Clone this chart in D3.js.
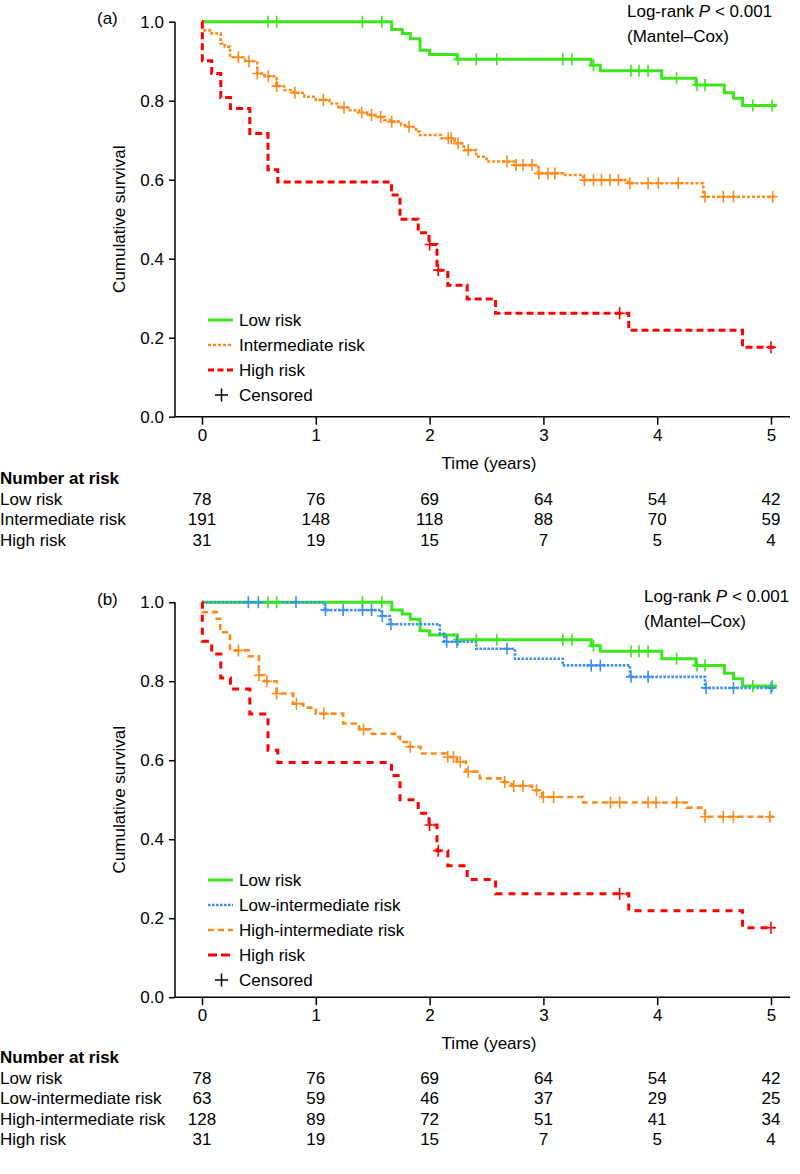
<!DOCTYPE html>
<html><head><meta charset="utf-8">
<script src="https://cdn.jsdelivr.net/npm/d3@7"></script>
<style>
html,body{margin:0;padding:0;background:#fff;}
text{font-family:"Liberation Sans",Arial,sans-serif;fill:#000;}
</style></head>
<body>
<svg id="chart" width="800" height="1174"></svg>
<script>
// ---------------- DATA ----------------
const xTicks = [0,1,2,3,4,5];
const yTicks = [0,0.2,0.4,0.6,0.8,1.0];

// Low risk (same in both panels)
const lowSteps = [[0,1],[1.667,0.98],[1.76,0.97],[1.83,0.957],[1.916,0.928],[2.0,0.917],[2.24,0.905],[3.42,0.89],[3.50,0.876],[4.04,0.857],[4.34,0.84],[4.59,0.82],[4.67,0.806],[4.75,0.788]];
const lowCensored = [0.58,0.656,1.41,1.58,2.25,2.41,2.59,3.17,3.25,3.44,3.77,3.84,3.92,4.17,4.35,4.42,4.84,5.01];
const lowEnd = 5.05;

// Intermediate risk (panel a)
const intSteps = [[0,1],[0.003,0.978],[0.085,0.97],[0.164,0.945],[0.2,0.937],[0.246,0.91],[0.38,0.90],[0.486,0.869],[0.55,0.862],[0.656,0.837],[0.72,0.827],[0.80,0.82],[0.90,0.81],[1.0,0.802],[1.12,0.793],[1.2,0.783],[1.30,0.776],[1.38,0.77],[1.45,0.764],[1.52,0.759],[1.6,0.751],[1.66,0.747],[1.75,0.738],[1.80,0.734],[1.88,0.722],[1.916,0.713],[2.10,0.705],[2.22,0.692],[2.30,0.675],[2.41,0.658],[2.50,0.646],[2.75,0.637],[2.955,0.616],[3.175,0.612],[3.35,0.599],[3.746,0.591],[4.405,0.557]];
const intCensored = [0.32,0.413,0.486,0.583,0.656,0.817,1.066,1.248,1.403,1.49,1.57,1.667,1.82,2.164,2.19,2.25,2.34,2.68,2.76,2.82,2.90,2.96,3.04,3.10,3.36,3.44,3.51,3.585,3.66,3.76,3.92,4.01,4.185,4.42,4.58,4.67,5.015];
const intEnd = 5.05;

// High risk (same in both panels)
const highSteps = [[0,1],[0.003,0.901],[0.085,0.869],[0.165,0.808],[0.25,0.78],[0.42,0.717],[0.58,0.625],[0.666,0.594],[1.665,0.561],[1.74,0.50],[1.90,0.466],[1.995,0.436],[2.065,0.371],[2.16,0.333],[2.33,0.298],[2.58,0.262],[3.75,0.219],[4.75,0.176]];
const highCensored = [2.0,2.076,3.67,5.0];
const highEnd = 5.03;

// Low-intermediate risk (panel b)
const lowIntSteps = [[0,1],[1.08,0.98],[1.58,0.965],[1.65,0.944],[2.09,0.92],[2.13,0.90],[2.41,0.882],[2.75,0.857],[3.17,0.84],[3.76,0.811],[4.42,0.783]];
const lowIntCensored = [0.407,0.495,0.826,1.085,1.24,1.41,1.49,1.585,1.66,2.15,2.24,2.68,3.42,3.50,3.77,3.92,4.43,4.67,5.0];
const lowIntEnd = 5.05;

// High-intermediate risk (panel b)
const highIntSteps = [[0,1],[0.005,0.975],[0.13,0.958],[0.16,0.924],[0.246,0.878],[0.41,0.863],[0.50,0.815],[0.55,0.80],[0.656,0.769],[0.80,0.743],[0.89,0.733],[1.0,0.718],[1.24,0.693],[1.38,0.678],[1.48,0.667],[1.71,0.659],[1.74,0.646],[1.80,0.634],[1.92,0.617],[2.15,0.608],[2.24,0.596],[2.32,0.571],[2.44,0.554],[2.62,0.545],[2.72,0.535],[2.90,0.524],[2.99,0.507],[3.35,0.493],[4.26,0.48],[4.42,0.457]];
const highIntCensored = [0.32,0.50,0.57,0.656,0.83,1.07,1.42,1.83,2.16,2.21,2.27,2.34,2.66,2.74,2.82,2.94,3.0,3.09,3.59,3.67,3.92,3.99,4.17,4.42,4.58,4.67,4.99];
const highIntEnd = 5.05;

// Number at risk tables
const tableALabels = ["Low risk","Intermediate risk","High risk"];
const atRiskLowA = [78,76,69,64,54,42];
const atRiskIntA = [191,148,118,88,70,59];
const atRiskHighA = [31,19,15,7,5,4];
const tableBLabels = ["Low risk","Low-intermediate risk","High-intermediate risk","High risk"];
const atRiskLowB = [78,76,69,64,54,42];
const atRiskLowIntB = [63,59,46,37,29,25];
const atRiskHighIntB = [128,89,72,51,41,34];
const atRiskHighB = [31,19,15,7,5,4];

// ---------------- STYLES ----------------
const GREEN = "#3ce61c", ORANGE = "#ff8a1a", RED = "#ff0000", BLUE = "#3a8eee";
const FS = "17px";

const svg = d3.select("#chart");

function stepValue(steps, t){
  let v = steps[0][1];
  for (const s of steps){ if (s[0] <= t) v = s[1]; else break; }
  return v;
}

function drawPanel(cfg){
  const off = cfg.offset;
  const x = d3.scaleLinear().domain([0,5]).range([202, 771]);
  const y = d3.scaleLinear().domain([0,1]).range([416.7+off, 21.7+off]);
  const g = svg.append("g");

  // axes
  const yAxis = d3.axisLeft(y).tickValues(yTicks).tickFormat(d3.format(".1f")).tickSize(6).tickPadding(5);
  const yg = g.append("g").attr("transform","translate(175,0)").call(yAxis);
  yg.select(".domain").attr("d", `M0,${y(1)}V${y(0)}`).attr("stroke","#000").attr("stroke-width",1.5);
  yg.selectAll(".tick line").attr("stroke","#000").attr("stroke-width",1.5);
  yg.selectAll(".tick text").style("font-size",FS).style("font-family","'Liberation Sans',Arial,sans-serif");

  const xAxis = d3.axisBottom(x).tickValues(xTicks).tickFormat(d3.format("d")).tickSize(8).tickPadding(4);
  const xg = g.append("g").attr("transform",`translate(0,${y(0)})`).call(xAxis);
  xg.select(".domain").attr("d", `M175,0H790`).attr("stroke","#000").attr("stroke-width",1.5);
  xg.selectAll(".tick line").attr("stroke","#000").attr("stroke-width",1.5);
  xg.selectAll(".tick text").style("font-size",FS).style("font-family","'Liberation Sans',Arial,sans-serif");

  // axis titles
  g.append("text").attr("transform",`translate(125,${(y(0)+y(1))/2}) rotate(-90)`)
    .attr("text-anchor","middle").style("font-size",FS).text("Cumulative survival");
  g.append("text").attr("x",489).attr("y",y(0)+52).attr("text-anchor","middle")
    .style("font-size",FS).text("Time (years)");
  g.append("text").attr("x",97).attr("y",24+off).style("font-size",FS).text(cfg.label);

  // log-rank text
  const lr = g.append("text").attr("x",cfg.lrX).attr("y",cfg.lrY).style("font-size",FS);
  lr.append("tspan").text("Log-rank ");
  lr.append("tspan").style("font-style","italic").text("P");
  lr.append("tspan").text(" < 0.001");
  g.append("text").attr("x",cfg.lrX).attr("y",cfg.lrY+25).style("font-size",FS).text("(Mantel\u2013Cox)");

  // curves
  const line = d3.line().x(d=>x(d[0])).y(d=>y(d[1])).curve(d3.curveStepAfter);
  cfg.series.forEach(s=>{
    const pts = s.steps.concat([[s.end, s.steps[s.steps.length-1][1]]]);
    g.append("path").attr("d", line(pts)).attr("fill","none")
      .attr("stroke", s.color).attr("stroke-width", s.width)
      .attr("stroke-dasharray", s.dash || null);
  });
  cfg.series.forEach(s=>{
    g.append("g").selectAll("path").data(s.censored).join("path")
      .attr("d", t=>{ const cx = x(t), cy = y(stepValue(s.steps,t));
        return `M${cx-5},${cy}H${cx+5}M${cx},${cy-6}V${cy+6}`; })
      .attr("stroke", s.color).attr("stroke-width",1.6).attr("fill","none");
  });

  // legend
  const lg = g.append("g");
  cfg.series.forEach((s,i)=>{
    const ly = cfg.legendY + i*cfg.legendStep;
    lg.append("line").attr("x1",208).attr("x2",233).attr("y1",ly).attr("y2",ly)
      .attr("stroke",s.color).attr("stroke-width",s.width).attr("stroke-dasharray",s.legendDash || s.dash || null);
    lg.append("text").attr("x",239).attr("y",ly+6).style("font-size",FS).text(s.name);
  });
  const cy = cfg.legendY + cfg.series.length*cfg.legendStep;
  lg.append("path").attr("d",`M${215},${cy}H${228}M${221.5},${cy-6.5}V${cy+6.5}`).attr("stroke","#000").attr("stroke-width",1.5);
  lg.append("text").attr("x",239).attr("y",cy+6).style("font-size",FS).text("Censored");

  // number at risk table
  const tg = g.append("g");
  tg.append("text").attr("x",0).attr("y",cfg.tableY).style("font-size",FS).style("font-weight","bold").text("Number at risk");
  cfg.tableLabels.forEach((lab,i)=>{
    const ty = cfg.tableY + (i+1)*20.6;
    tg.append("text").attr("x",0).attr("y",ty).style("font-size",FS).text(lab);
    tg.selectAll(null).data(cfg.tableRows[i]).join("text")
      .attr("x",(d,j)=>x(xTicks[j])).attr("y",ty).attr("text-anchor","middle")
      .style("font-size",FS).text(d=>d);
  });
}

drawPanel({
  offset:0, label:"(a)", lrX:627, lrY:17,
  legendY:320, legendStep:25,
  series:[
    {name:"Low risk", steps:lowSteps, censored:lowCensored, end:lowEnd, color:GREEN, width:3},
    {name:"Intermediate risk", steps:intSteps, censored:intCensored, end:intEnd, color:ORANGE, width:2.6, dash:"3,2"},
    {name:"High risk", steps:highSteps, censored:highCensored, end:highEnd, color:RED, width:3, dash:"7,4", legendDash:"6,3.5"}
  ],
  tableY:484, tableLabels:tableALabels, tableRows:[atRiskLowA, atRiskIntA, atRiskHighA]
});

drawPanel({
  offset:580.5, label:"(b)", lrX:644, lrY:602,
  legendY:880, legendStep:25,
  series:[
    {name:"Low risk", steps:lowSteps, censored:lowCensored, end:lowEnd, color:GREEN, width:3},
    {name:"Low-intermediate risk", steps:lowIntSteps, censored:lowIntCensored, end:lowIntEnd, color:BLUE, width:2.6, dash:"2.5,1.5"},
    {name:"High-intermediate risk", steps:highIntSteps, censored:highIntCensored, end:highIntEnd, color:ORANGE, width:2.6, dash:"6,4"},
    {name:"High risk", steps:highSteps, censored:highCensored, end:highEnd, color:RED, width:3, dash:"7,6", legendDash:"9,4"}
  ],
  tableY:1063, tableLabels:tableBLabels, tableRows:[atRiskLowB, atRiskLowIntB, atRiskHighIntB, atRiskHighB]
});
</script>
</body></html>
